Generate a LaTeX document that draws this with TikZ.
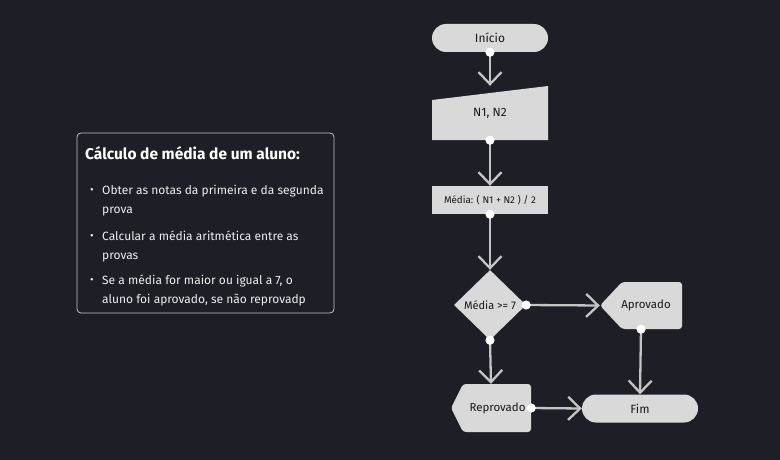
\documentclass[tikz,border=0pt]{standalone}
\usepackage{fontspec}
\setmainfont{Fira Sans}
\usetikzlibrary{shapes,arrows.meta}
\definecolor{bg_dark}{RGB}{30,30,38}
\definecolor{box_gray}{RGB}{217,217,217}
\definecolor{line_gray}{RGB}{196,196,196}
\definecolor{ink}{RGB}{25,25,25}
\definecolor{note_text}{RGB}{238,238,238}
\tikzstyle{term}=[rectangle,rounded corners=14pt,fill=box_gray,text=ink,
  minimum width=116pt,minimum height=28pt,font=\fontsize{12}{14}\selectfont]
\tikzstyle{proc}=[rectangle,fill=box_gray,text=ink,
  minimum width=116pt,minimum height=28pt,font=\fontsize{9.8}{12}\selectfont]
\tikzstyle{inp}=[rectangle,text=ink,minimum width=116pt,minimum height=54pt,
  font=\fontsize{12}{14}\selectfont,
  path picture={\fill[box_gray] (path picture bounding box.south west)
    -- (path picture bounding box.south east)
    -- (path picture bounding box.north east)
    -- ([yshift=-14pt]path picture bounding box.north west) -- cycle;}]
\tikzstyle{dec}=[diamond,fill=box_gray,text=ink,inner sep=0pt,
  minimum width=72pt,minimum height=70pt,font=\fontsize{11}{13}\selectfont]
\tikzset{disp/.style 2 args={rectangle,text=ink,minimum height=47pt,
  font=\fontsize{11.5}{13}\selectfont,
  execute at begin node={\hspace*{#2}},
  path picture={\fill[box_gray,rounded corners=3pt] (path picture bounding box.west)
    -- ([xshift=#1]path picture bounding box.north west)
    -- (path picture bounding box.north east)
    -- (path picture bounding box.south east)
    -- ([xshift=#1]path picture bounding box.south west) -- cycle;}}}
\tikzstyle{flow}=[draw=line_gray,line width=2.3pt,shorten <=-4.5pt,
  {Circle[length=9pt,width=9pt,color=white]}-{Straight Barb[length=12pt,width=23pt]}]
\tikzstyle{notebox}=[rectangle,rounded corners=4pt,draw=line_gray,line width=0.8pt,
  minimum width=257pt,minimum height=180pt]
\tikzstyle{notetitle}=[inner sep=0pt,text=white,font=\fontsize{15.5}{18}\selectfont\bfseries]
\tikzstyle{noteitem}=[inner sep=0pt,text=note_text,align=left,
  font=\fontsize{12}{18.5}\selectfont]
\tikzstyle{dot}=[inner sep=0pt,text=note_text,font=\fontsize{11}{12}\selectfont]

\begin{document}
\begin{tikzpicture}[x=1pt,y=-1pt]
    \fill [bg_dark] (0,0) rectangle (780,460);
    \useasboundingbox (0,0) rectangle (780,460);
    \node [style=notebox] (note) at (205.5,223) {};
    \node [style=notetitle,anchor=base west] (title) at (85,160) {Cálculo de média de um aluno:};
    \node [style=dot] (dot1) at (92,191) {•};
    \node [style=noteitem,anchor=north west] (item1) at (102,185) {Obter as notas da primeira e da segunda\\prova};
    \node [style=dot] (dot2) at (92,237) {•};
    \node [style=noteitem,anchor=north west] (item2) at (102,231) {Calcular a média aritmética entre as\\provas};
    \node [style=dot] (dot3) at (92,281) {•};
    \node [style=noteitem,anchor=north west] (item3) at (102,275) {Se a média for maior ou igual a 7, o\\aluno foi aprovado, se não reprovadp};
    \node [style=term] (init) at (490,38) {Início};
    \node [style=inp] (input) at (490,113) {\raisebox{-5pt}{N1, N2}};
    \node [style=proc] (avg) at (490,200) {Média: ( N1 + N2 ) / 2};
    \node [style=dec] (check) at (490,305) {Média >= 7};
    \node [disp={22pt}{10pt},minimum width=82pt] (pass) at (641,305.5) {Aprovado};
    \node [disp={12pt}{13pt},minimum width=80pt,minimum height=48pt] (fail) at (491,408) {Reprovado};
    \node [style=term] (stop) at (640,408.5) {Fim};
    \draw [style=flow] (init.south) to (input.north);
    \draw [style=flow] (input.south) to (avg.north);
    \draw [style=flow] (avg.south) to (check.north);
    \draw [style=flow] (check.east) to (pass.west);
    \draw [style=flow] (check.south) to (fail.north);
    \draw [style=flow] (pass.south) to (stop.north);
    \draw [style=flow] (fail.east) to (stop.west);
\end{tikzpicture}
\end{document}
